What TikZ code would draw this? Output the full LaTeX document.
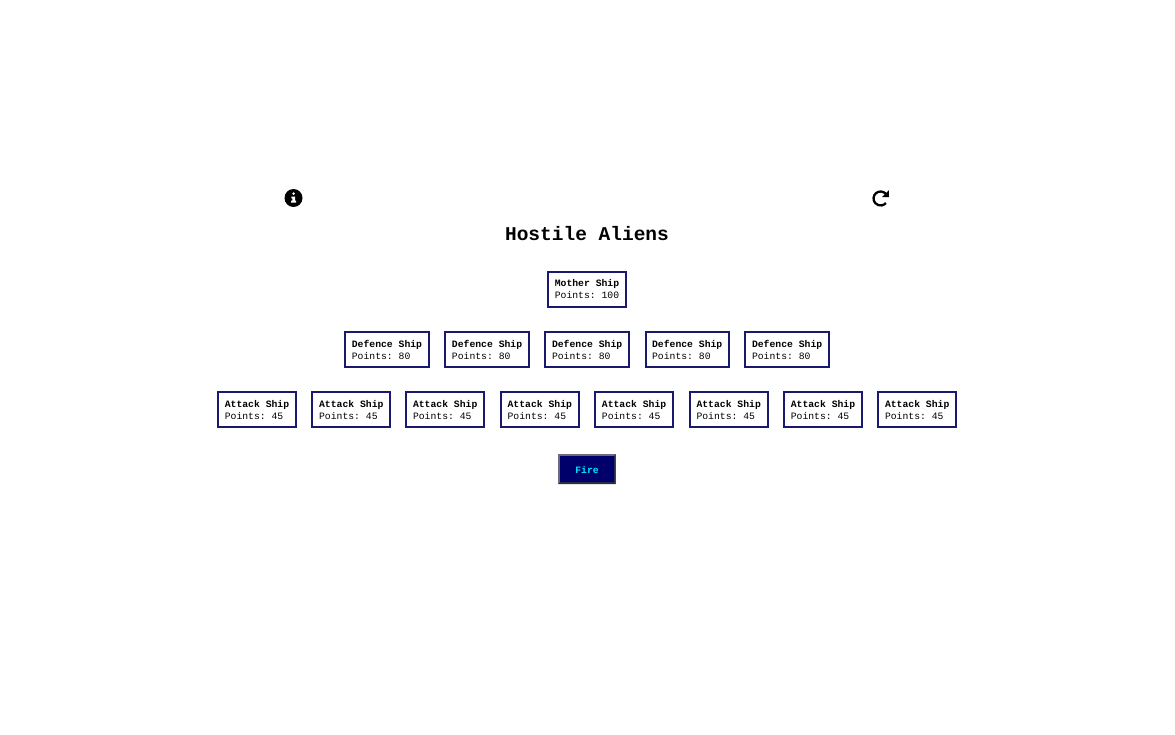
\documentclass[tikz,border=0pt]{standalone}
\usepackage{fontspec}
\setmainfont{Liberation Mono}
\frenchspacing
\definecolor{shipline}{HTML}{191970}
\definecolor{firefill}{HTML}{00006B}
\definecolor{firetext}{HTML}{00E5FF}
\definecolor{firelight}{HTML}{6B6A80}
\definecolor{firedark}{HTML}{2B2B48}
\tikzset{
  x=1pt,y=-1pt,
  shipbase/.style={draw=shipline,line width=2pt,outer sep=0pt,fill=white,minimum height=35.4pt,inner xsep=6pt,inner ysep=0pt,
    align=left,font=\frenchspacing\fontsize{9.75}{12}\selectfont,anchor=north west},
  mothership/.style={shipbase,minimum width=78pt},
  attackship/.style={shipbase,minimum width=78pt},
  defenceship/.style={shipbase,minimum width=83.4pt},
  heading/.style={font=\fontsize{19.5}{22}\selectfont\bfseries},
  firebutton/.style={fill=firefill,text=firetext,minimum width=53.4pt,minimum height=25.6pt,inner sep=0pt,
    font=\fontsize{9.75}{12}\selectfont\bfseries},
}
\newcommand{\shiptext}[2]{\raisebox{-0.7pt}[9pt][3pt]{\textbf{#1}}\\\raisebox{-0.7pt}[9pt][3pt]{#2}}
\begin{document}
\begin{tikzpicture}
\useasboundingbox (0,0) rectangle (1175,735);
\fill[white] (0,0) rectangle (1175,735);
% info icon
\fill[black] (293.5,198) circle (9);
\fill[white] (293.6,193.6) circle (1.4);
\fill[white] (291.4,196.6) -- (295,196.6) -- (295,200.6) -- (296,200.6) -- (296,202.6) -- (291.2,202.6) -- (291.2,200.6) -- (292.4,200.6) -- (292.4,198.5) -- (291.4,198.5) -- cycle;
% reload icon
\draw[black,line width=2.3pt] (885.9,194) arc (-40:-320:7);
\fill[black] (888.8,190.2) -- (888.8,197.2) -- (881.8,197.2) -- cycle;
\node[heading] (title) at (587,234) {Hostile Aliens};
\node[mothership] (mother) at (548,271.6) {\shiptext{Mother Ship}{Points: 100}};
\node[defenceship] (d1) at (345.3,331.6) {\shiptext{Defence Ship}{Points: 80}};
\node[defenceship] (d2) at (445.4,331.6) {\shiptext{Defence Ship}{Points: 80}};
\node[defenceship] (d3) at (545.4,331.6) {\shiptext{Defence Ship}{Points: 80}};
\node[defenceship] (d4) at (645.5,331.6) {\shiptext{Defence Ship}{Points: 80}};
\node[defenceship] (d5) at (745.4,331.6) {\shiptext{Defence Ship}{Points: 80}};
\node[attackship] (a1) at (218,391.6) {\shiptext{Attack Ship}{Points: 45}};
\node[attackship] (a2) at (312.3,391.6) {\shiptext{Attack Ship}{Points: 45}};
\node[attackship] (a3) at (406.2,391.6) {\shiptext{Attack Ship}{Points: 45}};
\node[attackship] (a4) at (500.8,391.6) {\shiptext{Attack Ship}{Points: 45}};
\node[attackship] (a5) at (595.1,391.6) {\shiptext{Attack Ship}{Points: 45}};
\node[attackship] (a6) at (689.7,391.6) {\shiptext{Attack Ship}{Points: 45}};
\node[attackship] (a7) at (784,391.6) {\shiptext{Attack Ship}{Points: 45}};
\node[attackship] (a8) at (878.2,391.6) {\shiptext{Attack Ship}{Points: 45}};
% fire button
\fill[firelight] (558.3,454.4) rectangle (615.7,484);
\fill[firedark] (615.7,454.4) -- (615.7,484) -- (558.3,484) -- (560.3,482) -- (613.7,482) -- (613.7,456.4) -- cycle;
\node[firebutton] (fire) at (587,469.2) {\raisebox{-1.5pt}[7pt][2pt]{Fire}};
\end{tikzpicture}
\end{document}
